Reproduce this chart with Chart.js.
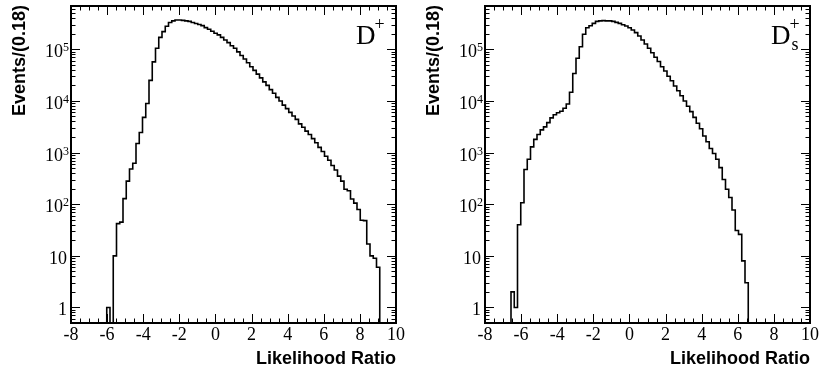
<!DOCTYPE html>
<html>
<head>
<meta charset="utf-8">
<script src="https://cdn.jsdelivr.net/npm/chart.js@4.4.1/dist/chart.umd.min.js"></script>
<style>
  html, body { margin: 0; padding: 0; background: #fff; }
  #wrap { position: relative; width: 821px; height: 374px; }
  .panel { position: absolute; top: 0; height: 374px; }
</style>
</head>
<body>
<div id="wrap">
  <div class="panel" style="left:0;width:410px"><canvas id="dplus" width="410" height="374"></canvas></div>
  <div class="panel" style="left:410px;width:411px"><canvas id="dsplus" width="411" height="374"></canvas></div>
</div>
<script>
// binning of both histograms: 100 bins of 0.18 from -8 to 10
const xLow = -8, xHigh = 10, binWidth = 0.18;
const xTickLabels = [-8, -6, -4, -2, 0, 2, 4, 6, 8, 10];
const yDecades = [1, 10, 100, 1000, 10000, 100000];
const yMin = 0.5, yMax = 6.9e5;

// events per bin, D+ sample
const dplusCounts = [
  0, 0, 0, 0, 0, 0, 0, 0, 0, 0,
  0, 1, 0, 10, 42, 45, 128, 280, 480, 620,
  1500, 2450, 4800, 8900, 25000, 57000, 105000, 170000, 220000, 280000,
  330000, 355000, 370000, 370000, 363000, 355000, 347000, 331000, 316000, 302000,
  288000, 263000, 245000, 224000, 204000, 190000, 170000, 151000, 135000, 117000,
  105000, 89000, 76000, 65000, 55000, 46000, 39000, 33000, 28000, 23400,
  20000, 16600, 14100, 11700, 10000, 8300, 7100, 6000, 5100, 4400,
  3600, 3100, 2600, 2240, 1860, 1550, 1260, 1050, 850, 710,
  560, 460, 350, 280, 195, 182, 126, 105, 79, 49,
  48, 17, 10, 9, 6, 0, 0, 0, 0, 0
];

// events per bin, Ds+ sample
const dsplusCounts = [
  0, 0, 0, 0, 0, 0, 0, 0, 2, 1,
  40, 107, 470, 740, 1290, 1800, 2240, 2750, 3150, 3800,
  4700, 5400, 5900, 6300, 7200, 8700, 14700, 34000, 67000, 112000,
  196000, 262000, 286000, 318000, 347000, 356000, 360000, 356000, 356000, 347000,
  333000, 318000, 300000, 283000, 262000, 236000, 210000, 181000, 151000, 127000,
  105000, 86000, 70000, 58000, 46000, 38000, 30000, 24600, 19500, 15800,
  12600, 10000, 7900, 6200, 4800, 3700, 2900, 2100, 1620, 1200,
  960, 740, 510, 300, 195, 135, 77, 31, 26, 8,
  3, 0, 0, 0, 0, 0, 0, 0, 0, 0
];

// step points at bin low edges, empty bins sit on the frame like in ROOT
function histPoints(counts) {
  const pts = counts.map((c, i) => ({ x: xLow + i * binWidth, y: c > 0 ? c : yMin }));
  pts.push({ x: xHigh, y: yMin });
  return pts;
}

const serif = '"Liberation Serif", "Times New Roman", serif';
const sans = '"Liberation Sans", Arial, sans-serif';

const rootFrame = {
  id: "rootFrame",
  afterDatasetsDraw(chart, args, opts) {
    const ctx = chart.ctx, a = chart.chartArea;
    const xs = chart.scales.x, ys = chart.scales.y;
    ctx.save();
    ctx.strokeStyle = "#000";
    ctx.fillStyle = "#000";

    // ticks on all four sides
    ctx.lineWidth = 1;
    ctx.beginPath();
    for (let i = 0; i <= 36; i++) {
      const px = Math.round(xs.getPixelForValue(xLow + i * 0.5)) + 0.5;
      const len = i % 4 === 0 ? 9 : 4.5;
      ctx.moveTo(px, a.bottom); ctx.lineTo(px, a.bottom - len);
      ctx.moveTo(px, a.top); ctx.lineTo(px, a.top + len);
    }
    for (let e = -1; e <= 5; e++) {
      for (let m = 1; m <= 9; m++) {
        const v = m * Math.pow(10, e);
        if (v < yMin || v > yMax) continue;
        const py = Math.round(ys.getPixelForValue(v)) + 0.5;
        const len = m === 1 ? 9 : 4.5;
        ctx.moveTo(a.left, py); ctx.lineTo(a.left + len, py);
        ctx.moveTo(a.right, py); ctx.lineTo(a.right - len, py);
      }
    }
    ctx.stroke();

    ctx.lineWidth = 2;
    ctx.strokeRect(a.left, a.top, a.right - a.left, a.bottom - a.top);

    // x tick labels
    ctx.font = "18px " + serif;
    ctx.textAlign = "center";
    ctx.textBaseline = "alphabetic";
    xTickLabels.forEach(t => ctx.fillText(String(t), xs.getPixelForValue(t), a.bottom + 17));

    // y tick labels 1, 10, 10^2 ...
    yDecades.forEach((v, e) => {
      const py = ys.getPixelForValue(v);
      const right = a.left - 3;
      ctx.textAlign = "right";
      if (e < 2) {
        ctx.font = "18px " + serif;
        ctx.fillText(e === 0 ? "1" : "10", right - 1, py + 8);
      } else {
        ctx.font = "12px " + serif;
        const ew = ctx.measureText(String(e)).width;
        ctx.fillText(String(e), right + 1, py + 2);
        ctx.font = "18px " + serif;
        ctx.fillText("10", right + 1 - ew, py + 8);
      }
    });

    // axis titles
    ctx.font = "bold 18px " + sans;
    ctx.textAlign = "right";
    ctx.fillText("Likelihood Ratio", a.right, a.bottom + 41);
    ctx.save();
    ctx.translate(opts.yTitleX, 5);
    ctx.rotate(-Math.PI / 2);
    ctx.fillText("Events/(0.18)", 0, 0);
    ctx.restore();

    // sample label
    ctx.textAlign = "left";
    ctx.font = "27px " + serif;
    const lx = a.right - opts.labelOffset;
    ctx.fillText("D", lx, 44);
    const dw = ctx.measureText("D").width;
    ctx.font = "18px " + serif;
    ctx.fillText("+", lx + dw - 1, 30);
    if (opts.sub) ctx.fillText(opts.sub, lx + dw + 1, 50);
    ctx.restore();
  }
};

function drawHist(canvasId, counts, padding, pluginOpts) {
  const el = document.getElementById(canvasId);
  return new Chart(el, {
    type: "line",
    data: {
      datasets: [{
        data: histPoints(counts),
        borderColor: "#000",
        borderWidth: 1.6,
        pointRadius: 0,
        stepped: true,
        fill: false,
      }]
    },
    options: {
      responsive: false,
      animation: false,
      devicePixelRatio: 1,
      layout: { padding },
      plugins: {
        legend: { display: false },
        tooltip: { enabled: false },
        rootFrame: pluginOpts,
      },
      scales: {
        x: { type: "linear", min: xLow, max: xHigh, display: false },
        y: { type: "logarithmic", min: yMin, max: yMax, display: false },
      }
    },
    plugins: [rootFrame]
  });
}

drawHist("dplus", dplusCounts, { left: 71, right: 14, top: 6, bottom: 51 },
         { yTitleX: 25, labelOffset: 40, sub: null });
drawHist("dsplus", dsplusCounts, { left: 75, right: 11, top: 6, bottom: 51 },
         { yTitleX: 29, labelOffset: 39, sub: "s" });
</script>
</body>
</html>
